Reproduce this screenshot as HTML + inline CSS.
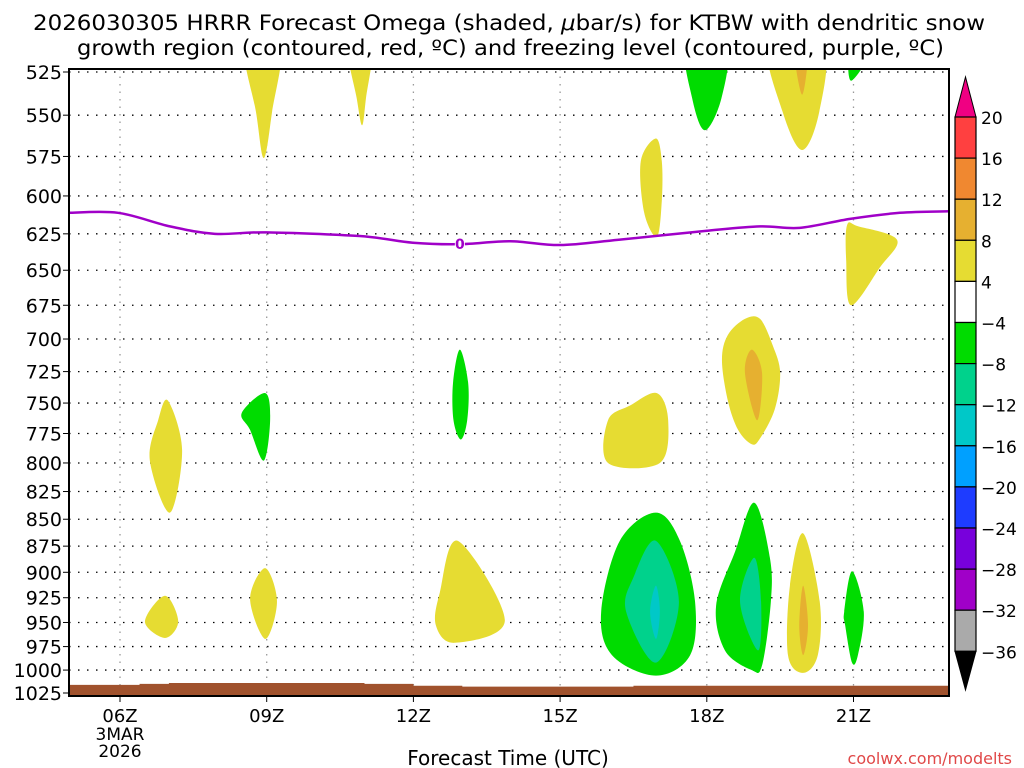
<!DOCTYPE html>
<html><head><meta charset="utf-8"><style>
html,body{margin:0;padding:0;background:#fff;width:1024px;height:768px;overflow:hidden}
svg{display:block;font-family:"DejaVu Sans","Liberation Sans",sans-serif}
</style></head><body>
<svg id="chart" width="1024" height="768" viewBox="0 0 1024 768" xmlns="http://www.w3.org/2000/svg">
<defs><clipPath id="plotclip"><rect x="69" y="69" width="880" height="627"/></clipPath></defs>
<text x="33" y="30" font-size="21" textLength="952" lengthAdjust="spacingAndGlyphs">2026030305 HRRR Forecast Omega (shaded, <tspan font-style="italic">μ</tspan>bar/s) for KTBW with dendritic snow</text>
<text x="77" y="55" font-size="21" textLength="867" lengthAdjust="spacingAndGlyphs">growth region (contoured, red, ºC) and freezing level (contoured, purple, ºC)</text>
<g id="grid"></g>
<g id="shades" clip-path="url(#plotclip)"></g>
<g id="terrain"></g>
<g id="frz" clip-path="url(#plotclip)"></g>
<rect x="69" y="69" width="880" height="627" fill="none" stroke="#000" stroke-width="2"/>
<g id="yaxis"></g>
<g id="xaxis"></g>
<text x="508" y="765" font-size="20" text-anchor="middle">Forecast Time (UTC)</text>
<text x="1012" y="764" font-size="16" text-anchor="end" fill="#e04848">coolwx.com/modelts</text>
<g id="cbar"></g>
</svg>
<script>
const pressureTicks=[525,550,575,600,625,650,675,700,725,750,775,800,825,850,875,900,925,950,975,1000,1025];
const hourTicks=[6,9,12,15,18,21];
const hourLabels=["06Z","09Z","12Z","15Z","18Z","21Z"];
const frzHours=[4.94,5.96,7.02,7.94,8.99,10.9,11.99,12.95,13.98,15,16.2,17.98,19.09,19.9,20.93,21.95,22.95];
const frzPres=[611,611,620,625,624,626.5,631,632,630,632.6,629,623,620,621,615,611,610];
const sfcHours=[4.9,5.9,6.4,7.0,8.0,9.0,10.0,11.0,12.0,13.0,14.0,15.0,16.0,16.5,17.0,18.0,19.0,20.0,21.0,22.0,23.0];
const sfcPres=[1016,1016,1015,1014,1014,1014,1014,1015,1017,1018,1018,1018,1018,1017,1017,1017,1017,1017,1017,1017,1017];
const cbarLevels=["20","16","12","8","4","\u22124","\u22128","\u221212","\u221216","\u221220","\u221224","\u221228","\u221232","\u221236"];
const cbarColors=["#ff4040","#f08830","#e6b030","#e6dc32","#ffffff","#00dc00","#00d28c","#00c8c8","#00a0ff","#1e3cff","#7800dc","#a000c8","#aaaaaa"];
const Y="#e6dc32",O="#e6b030",G="#00dc00",T="#00d28c",C="#00c8c8";
const shadeColors=[Y,Y,G,Y,O,G,Y,Y,Y,O,Y,G,G,Y,Y,Y,Y,G,T,C,G,T,Y,O,G];
const shadeShapes=[
[[8.55,510],[9.28,510],[9.11,548],[8.94,576],[8.78,548]],
[[10.66,510],[11.15,510],[11.03,540],[10.95,556],[10.84,540]],
[[17.58,510],[18.4,510],[18.3,540],[17.96,559],[17.7,540]],
[[19.27,510],[20.38,510],[20.3,548],[19.95,571],[19.55,548]],
[[19.78,510],[20.07,510],[19.95,538]],
[[20.93,515],[21.32,515],[20.95,530]],
[[16.96,564],[17.08,578],[17.08,603],[16.98,627],[16.72,611],[16.65,578]],
[[20.87,619],[21.1,620],[21.89,629],[21.54,648],[20.95,675],[20.85,643]],
[[18.78,685],[19.09,685],[19.35,705],[19.5,726],[19.39,755],[19.09,779],[18.92,784],[18.64,772],[18.43,748],[18.31,716],[18.43,697]],
[[18.92,708],[19.13,726],[19.03,764],[18.78,726]],
[[15.98,764],[16.43,752],[16.98,742],[17.21,764],[17.04,800],[15.98,800]],
[[12.95,708],[13.12,734],[13.1,764],[12.97,780],[12.82,764],[12.81,734]],
[[8.49,758],[8.97,742],[9.07,764],[8.94,798],[8.66,772]],
[[6.98,748],[7.27,789],[7.02,844],[6.61,798],[6.78,764]],
[[6.51,949],[6.92,923],[7.19,949],[6.92,966]],
[[8.66,926],[8.97,896],[9.21,929],[8.97,967]],
[[12.54,920],[12.91,870],[13.87,948],[12.85,971],[12.46,953]],
[[16.96,844],[17.45,870],[17.76,929],[17.66,984],[16.96,1006],[16.06,984],[15.84,939],[16.22,870]],
[[16.96,870],[17.43,929],[16.96,992],[16.35,939],[16.5,905]],
[[16.96,913],[17.04,939],[16.96,967],[16.84,939]],
[[18.97,835],[19.29,886],[19.31,929],[19.13,995],[18.92,1000],[18.37,979],[18.19,933],[18.58,880]],
[[18.97,886],[19.11,929],[19.05,979],[18.68,929]],
[[19.97,863],[20.31,929],[20.27,984],[19.97,1003],[19.66,984],[19.7,913]],
[[19.97,913],[20.07,953],[19.97,984],[19.89,953]],
[[20.97,899],[21.21,939],[21.09,984],[20.97,992],[20.83,953],[20.81,939]]
];
const NS="http://www.w3.org/2000/svg";
const X0=69,X1=949,Y0=69,Y1=696,PTOP=525,PBOT=1025,YT=72,YB=693;
function xS(h){return 120+(h-6)*48.9;}
function yS(p){return YT+(YB-YT)*Math.log(p/PTOP)/Math.log(PBOT/PTOP);}
function mk(tag,attrs,parent){const e=document.createElementNS(NS,tag);for(const k in attrs)e.setAttribute(k,attrs[k]);parent.appendChild(e);return e;}
const grid=document.getElementById('grid');
pressureTicks.forEach(p=>{const l=mk('line',{x1:X0,x2:X1,y1:yS(p),y2:yS(p),stroke:'#000','stroke-width':1.3,'stroke-dasharray':'1.5 7.5'},grid);

});
hourTicks.forEach(h=>{const l=mk('line',{x1:xS(h),x2:xS(h),y1:Y0,y2:Y1,stroke:'#999','stroke-width':1.3,'stroke-dasharray':'1.5 6'},grid);

});
function spline(pts){const n=pts.length;let d=`M${pts[0][0]},${pts[0][1]}`;
for(let i=0;i<n;i++){const p0=pts[(i-1+n)%n],p1=pts[i],p2=pts[(i+1)%n],p3=pts[(i+2)%n];
const c1=[p1[0]+(p2[0]-p0[0])/6,p1[1]+(p2[1]-p0[1])/6],c2=[p2[0]-(p3[0]-p1[0])/6,p2[1]-(p3[1]-p1[1])/6];
d+=` C${c1[0]},${c1[1]} ${c2[0]},${c2[1]} ${p2[0]},${p2[1]}`;}return d+'Z';}
function openSpline(pts){const n=pts.length;let d=`M${pts[0][0]},${pts[0][1]}`;
for(let i=0;i<n-1;i++){const p0=pts[Math.max(0,i-1)],p1=pts[i],p2=pts[i+1],p3=pts[Math.min(n-1,i+2)];
const c1=[p1[0]+(p2[0]-p0[0])/6,p1[1]+(p2[1]-p0[1])/6],c2=[p2[0]-(p3[0]-p1[0])/6,p2[1]-(p3[1]-p1[1])/6];
d+=` C${c1[0]},${c1[1]} ${c2[0]},${c2[1]} ${p2[0]},${p2[1]}`;}return d;}
const shades=document.getElementById('shades');
shadeShapes.forEach((s,i)=>{const pts=s.map(q=>[xS(q[0]),yS(q[1])]);
const e=mk('path',{d:spline(pts),fill:shadeColors[i]},shades);

});
const terr=document.getElementById('terrain');
let td=`M${X0},${Y1}`;sfcHours.forEach((h,i)=>{const x=Math.max(X0,Math.min(X1,xS(h)));td+=` L${x},${yS(sfcPres[i])}`;
if(i<sfcHours.length-1){const x2=Math.max(X0,Math.min(X1,xS(sfcHours[i+1])));td+=` L${x2},${yS(sfcPres[i])}`;}});
td+=` L${X1},${Y1}Z`;
const tp=mk('path',{d:td,fill:'#a0522d'},terr);


const frz=document.getElementById('frz');
const fp=mk('path',{d:openSpline(frzHours.map((h,i)=>[xS(h),yS(frzPres[i])])),fill:'none',stroke:'#a000c8','stroke-width':2.5},frz);


const lbx=xS(12.95),lby=yS(632);
const lr=mk('rect',{x:lbx-5,y:lby-8,width:10,height:16,fill:'#fff'},frz);


const lt=mk('text',{x:lbx,y:lby+5,'font-size':14,'text-anchor':'middle',fill:'#a000c8','font-weight':'bold'},frz);lt.textContent='0';


const ya=document.getElementById('yaxis');
pressureTicks.forEach(p=>{const t=mk('text',{x:62,y:yS(p)+7,'font-size':19,'text-anchor':'end'},ya);t.textContent=p;


const k=mk('line',{x1:63,x2:69,y1:yS(p),y2:yS(p),stroke:'#000','stroke-width':1},ya);

});
const xa=document.getElementById('xaxis');
hourTicks.forEach((h,i)=>{const k=mk('line',{x1:xS(h),x2:xS(h),y1:Y1,y2:Y1+6,stroke:'#000'},xa);


const t=mk('text',{x:xS(h),y:722,'font-size':18,'text-anchor':'middle'},xa);t.textContent=hourLabels[i];

});
[["3MAR",740],["2026",757]].forEach(a=>{const t=mk('text',{x:xS(6),y:a[1],'font-size':17,'text-anchor':'middle'},xa);t.textContent=a[0];

});
const cb=document.getElementById('cbar');
const CX0=955,CX1=976,CT=117,CH=41.1;
const up=mk('path',{d:`M${CX0},${CT} L${(CX0+CX1)/2},77 L${CX1},${CT}Z`,fill:'#f00082',stroke:'#000'},cb);


cbarColors.forEach((c,i)=>{const r=mk('rect',{x:CX0,y:CT+i*CH,width:CX1-CX0,height:CH,fill:c,stroke:'#000','stroke-width':1.2},cb);

});
const bot=CT+cbarColors.length*CH;
const dn=mk('path',{d:`M${CX0},${bot} L${(CX0+CX1)/2},690 L${CX1},${bot}Z`,fill:'#000',stroke:'#000'},cb);


cbarLevels.forEach((l,i)=>{const t=mk('text',{x:981,y:CT+i*CH+7,'font-size':17},cb);t.textContent=l;

});
</script>
</body></html>
